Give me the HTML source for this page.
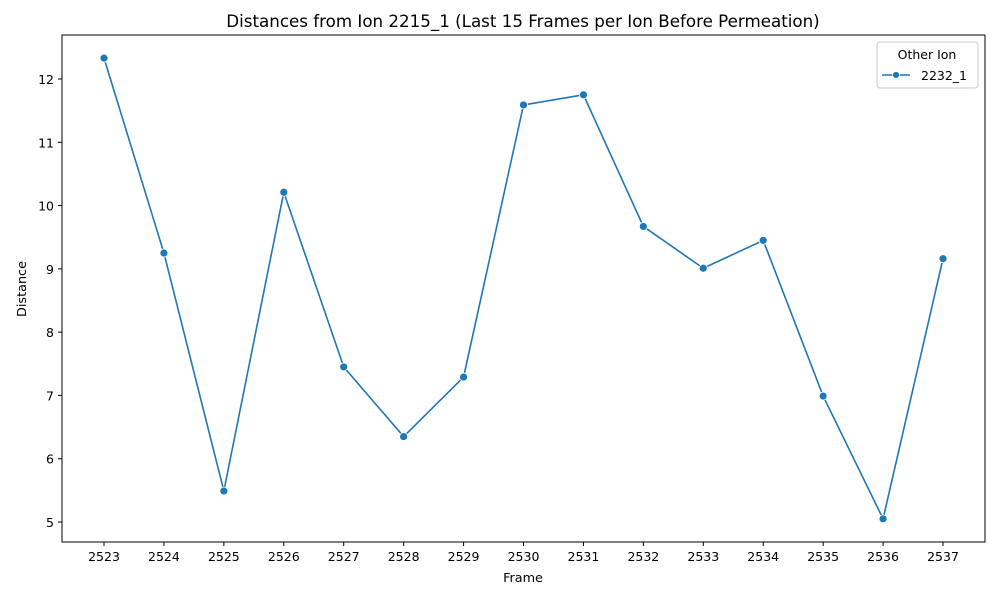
<!DOCTYPE html>
<html><head><meta charset="utf-8"><style>
body{margin:0;background:#fff;font-family:"DejaVu Sans","Liberation Sans",sans-serif}
</style></head><body>
<svg id="chart" width="1000" height="600" xmlns="http://www.w3.org/2000/svg" font-family="DejaVu Sans, Liberation Sans, sans-serif">
<rect width="1000" height="600" fill="#fff"/>
<text x="523" y="27" text-anchor="middle" font-size="16.7">Distances from Ion 2215_1 (Last 15 Frames per Ion Before Permeation)</text>
<rect x="62" y="35" width="923" height="507" fill="none" stroke="#000" stroke-width="1"/>
<g id="xaxis"></g>
<g id="yaxis"></g>
<text x="523" y="582" text-anchor="middle" font-size="12.8">Frame</text>
<text transform="translate(26,289) rotate(-90)" text-anchor="middle" font-size="12.8">Distance</text>
<g id="series"></g>
<g>
<rect x="877" y="42" width="101" height="46" rx="3" fill="#fff" stroke="#ccc"/>
<text x="927" y="59" text-anchor="middle" font-size="12.5">Other Ion</text>
<g>
<line x1="882" y1="75" x2="910" y2="75" stroke="#1f77b4" stroke-width="1.5"/>
<circle cx="896" cy="75" r="3.5" fill="#1f77b4" stroke="#fff" stroke-width="0.8"/>
<text x="921" y="80" font-size="12.5">2232_1</text></g>
</g>
</svg>
<script>
const frames=[2523,2524,2525,2526,2527,2528,2529,2530,2531,2532,2533,2534,2535,2536,2537];
const distances=[12.33,9.25,5.49,10.21,7.45,6.35,7.29,11.59,11.75,9.67,9.01,9.45,6.99,5.05,9.16];
const yTicks=[5,6,7,8,9,10,11,12];
const NS="http://www.w3.org/2000/svg";
const xs=f=>104+(f-2523)*(943-104)/14;
const ys=v=>522-(v-5)*(522-79)/7;
function mk(t,a,p){const e=document.createElementNS(NS,t);for(const k in a)e.setAttribute(k,a[k]);p.appendChild(e);return e;}
const xa=document.getElementById('xaxis'),ya=document.getElementById('yaxis'),se=document.getElementById('series');
frames.forEach(f=>{const x=xs(f);
mk('line',{x1:x,x2:x,y1:542,y2:546,stroke:'#000'},xa);
const t=mk('text',{x:x,y:561,'text-anchor':'middle','font-size':12.5},xa);t.textContent=f;

});
yTicks.forEach(v=>{const y=ys(v);
mk('line',{x1:58,x2:62,y1:y,y2:y,stroke:'#000'},ya);
const t=mk('text',{x:54,y:y+5,'text-anchor':'end','font-size':12.5},ya);t.textContent=v;

});
const pl=mk('polyline',{points:frames.map((f,i)=>xs(f)+','+ys(distances[i])).join(' '),fill:'none',stroke:'#1f77b4','stroke-width':1.6},se);


frames.forEach((f,i)=>{const c=mk('circle',{cx:xs(f),cy:ys(distances[i]),r:4,fill:'#1f77b4',stroke:'#fff','stroke-width':0.8},se);

});
</script>
</body></html>
